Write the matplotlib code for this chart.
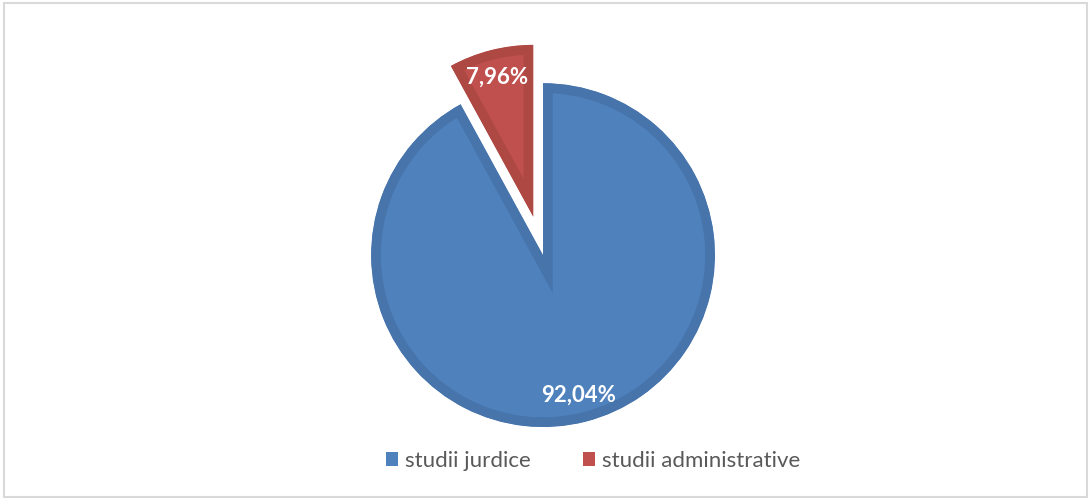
import matplotlib.pyplot as plt
from matplotlib.patches import Rectangle, Patch

# data
labels = ["studii jurdice", "studii administrative"]
values = [92.04, 7.96]
colors = ["#4F81BD", "#C0504D"]
edge_colors = ["#4674AB", "#AD4843"]
explode = [0, 0.23]

fig = plt.figure(figsize=(10.91, 5.0), dpi=100)

# light gray frame round the chart area
fig.patches.append(Rectangle((4 / 1091, 3 / 500), 1083 / 1091, 494 / 500,
                             transform=fig.transFigure, fill=False,
                             edgecolor="#D9D9D9", linewidth=1.5))

ax = fig.add_axes([0.2928, 0.0428, 0.4099, 0.894])
wedges, texts, autotexts = ax.pie(
    values,
    colors=colors,
    explode=explode,
    startangle=90,
    counterclock=False,
    autopct=lambda p: f"{p:.2f}%".replace(".", ","),
    pctdistance=0.84,
    textprops=dict(color="white", fontsize=16, fontweight="bold", family="Lato"),
)
for w, ec in zip(wedges, edge_colors):
    w.set_edgecolor(ec)
    w.set_linewidth(14)
    w.set_joinstyle("miter")
    w.set_clip_on(True)
    w.set_clip_path(w)  # keep the thick border inside the wedge
ax.set_xlim(-1.3, 1.3)
ax.set_ylim(-1.3, 1.3)
ax.set_aspect("equal")
ax.axis("off")

handles = [Patch(facecolor=c, edgecolor="none") for c in colors]
fig.legend(handles, labels, loc="center", bbox_to_anchor=(0.5435, 0.078),
           ncol=2, frameon=False, handlelength=0.55, handleheight=0.55,
           handletextpad=0.3, columnspacing=2.35,
           prop=dict(family="Lato", size=16), labelcolor="#595959")

fig.savefig("out.png", dpi=100)
